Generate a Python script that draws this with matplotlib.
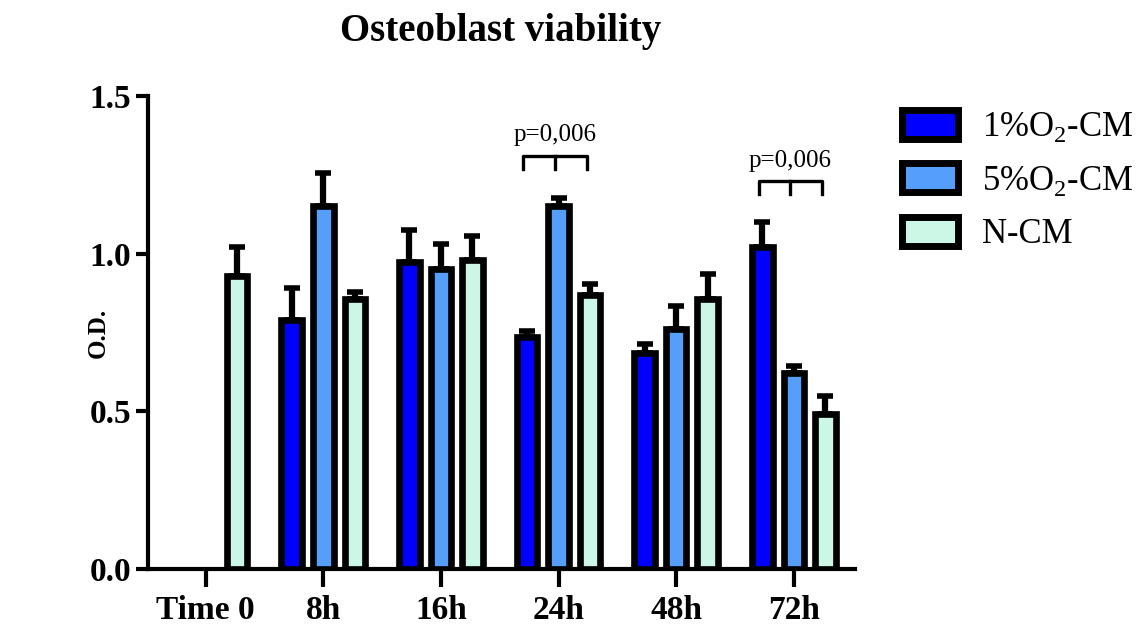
import numpy as np
import matplotlib
matplotlib.use('Agg')
import matplotlib.pyplot as plt

plt.rcParams['font.family'] = ['Liberation Serif', 'DejaVu Serif']
plt.rcParams['mathtext.fontset'] = 'custom'
plt.rcParams['mathtext.rm'] = 'Liberation Serif'

# data
times = ['Time 0', '8h', '16h', '24h', '48h', '72h']
series = ['1%O$_\\mathrm{2}$-CM', '5%O$_\\mathrm{2}$-CM', 'N-CM']
one = [np.nan, 0.79, 0.975, 0.735, 0.685, 1.02]
one_err = [np.nan, 0.10, 0.10, 0.02, 0.03, 0.08]
five = [np.nan, 1.15, 0.95, 1.15, 0.76, 0.62]
five_err = [np.nan, 0.105, 0.08, 0.025, 0.075, 0.025]
ncm = [0.93, 0.855, 0.98, 0.87, 0.855, 0.49]
ncm_err = [0.09, 0.025, 0.075, 0.035, 0.08, 0.06]
pvals = ['p=0,006', 'p=0,006']
p_groups = [3, 5]
p_heights = [1.31, 1.23]

colors = ['#0000FF', '#559FFA', '#CCF7E6']

fig = plt.figure(figsize=(11.42, 6.28), dpi=100)
ax = fig.add_axes([148 / 1142, 59 / 628, 707 / 1142, 473 / 628])

x = np.arange(len(times))
step = 0.268
width = 0.175
lw = 4.8

for i, (vals, errs) in enumerate([(one, one_err), (five, five_err), (ncm, ncm_err)]):
    vals = np.array(vals)
    errs = np.array(errs)
    pos = x + (i - 1) * step
    ok = ~np.isnan(vals)
    ax.bar(pos[ok], vals[ok], width, color=colors[i], edgecolor='black',
           linewidth=lw, label=series[i], zorder=3)
    eb = ax.errorbar(pos[ok], vals[ok], yerr=[np.zeros(ok.sum()), errs[ok]],
                     fmt='none', ecolor='black', elinewidth=4.5, capsize=6,
                     capthick=4, zorder=2, clip_on=False)
    for c in eb[1]:
        c.set_solid_capstyle('round')

# significance brackets
for g, h, txt in zip(p_groups, p_heights, pvals):
    xl = g - step - 0.03
    xr = g + step - 0.03
    xm = g - 0.03
    drop = 0.04
    ax.plot([xl, xl, xr, xr], [h - drop, h, h, h - drop], color='black',
            lw=2.4, clip_on=False, zorder=4)
    ax.plot([xm, xm], [h, h - drop], color='black', lw=2.4, clip_on=False, zorder=4)
    ax.text(xm, h + 0.065, txt, ha='center', va='center', fontsize=18)

ax.set_xlim(-0.49, 5.52)
ax.set_ylim(0, 1.5)
ax.set_xticks(x)
ax.set_xticklabels(times, fontsize=24, fontweight='bold')
ax.set_yticks([0, 0.5, 1.0, 1.5])
ax.set_yticklabels(['%.1f' % v for v in [0, 0.5, 1.0, 1.5]], fontsize=24,
                   fontweight='bold')
ax.tick_params(axis='x', length=13, width=3, pad=6)
ax.tick_params(axis='y', length=9, width=3, pad=3)
for s in ['top', 'right']:
    ax.spines[s].set_visible(False)
for s in ['left', 'bottom']:
    ax.spines[s].set_linewidth(3)

ax.set_ylabel('O.D.', fontsize=18, fontweight='bold')
ax.yaxis.set_label_coords(-0.054, 0.5)

fig.text(501 / 1142, 1 - 32 / 628, 'Osteoblast viability', ha='center',
         va='center', fontsize=28, fontweight='bold')

leg = ax.legend(loc='upper left', bbox_to_anchor=(902 / 1142, 1 - 110 / 628),
                bbox_transform=fig.transFigure, frameon=False, fontsize=25,
                handlelength=1.6, handleheight=0.9, handletextpad=0.7,
                labelspacing=0.55, borderpad=0, borderaxespad=0)
for p in leg.get_patches():
    p.set_linewidth(5)

fig.savefig('out.png', dpi=100)
